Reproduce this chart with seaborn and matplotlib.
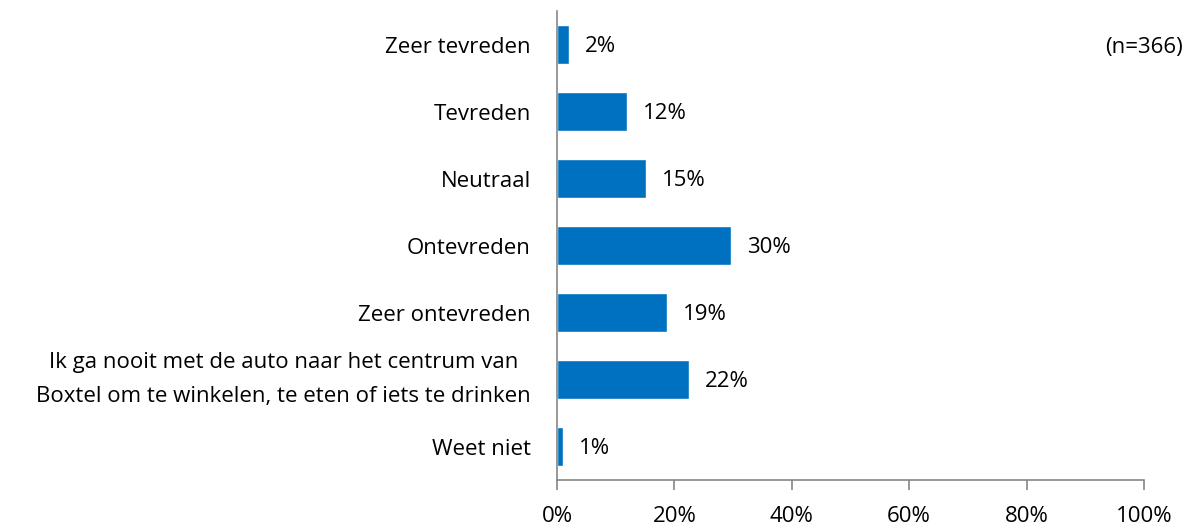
import matplotlib
matplotlib.use('Agg')
import matplotlib.pyplot as plt
from matplotlib.ticker import PercentFormatter
import pandas as pd
import seaborn as sns

categories = [
    'Zeer tevreden',
    'Tevreden',
    'Neutraal',
    'Ontevreden',
    'Zeer ontevreden',
    'Ik ga nooit met de auto naar het centrum van\nBoxtel om te winkelen, te eten of iets te drinken',
    'Weet niet',
]
values = [2.0, 11.9, 15.2, 29.6, 18.7, 22.5, 1.0]
labels = ['2%', '12%', '15%', '30%', '19%', '22%', '1%']
note = '(n=366)'

BLUE = '#0070C0'
AXIS_GREY = '#868686'
FS = 16

sns.set_theme(style='white')
plt.rcParams['font.family'] = ['Open Sans', 'DejaVu Sans']

df = pd.DataFrame({'category': categories, 'value': values})

fig, ax = plt.subplots(figsize=(11.91, 5.28), dpi=100)
fig.subplots_adjust(left=0.4677, right=0.9605, top=0.979, bottom=0.0909)

sns.barplot(data=df, x='value', y='category', color=BLUE, width=0.57,
            saturation=1, ax=ax)

for i, (v, lab) in enumerate(zip(values, labels)):
    ax.annotate(lab, (v, i), xytext=(16, -2), textcoords='offset pixels',
                va='center', ha='left', fontsize=FS, color='black')

ax.set_xlim(0, 100)
ax.set_ylim(6.5, -0.5)
ax.xaxis.set_major_formatter(PercentFormatter(decimals=0))
ax.set_xticks([0, 20, 40, 60, 80, 100])
ax.set_xlabel('')
ax.set_ylabel('')
ax.tick_params(axis='x', direction='out', length=7, width=1.2, color=AXIS_GREY,
               labelsize=FS, labelcolor='black', pad=12, bottom=True)
ax.tick_params(axis='y', length=0, labelsize=FS, labelcolor='black', pad=19)
for side in ['top', 'right']:
    ax.spines[side].set_visible(False)
for side in ['left', 'bottom']:
    ax.spines[side].set_color(AXIS_GREY)
    ax.spines[side].set_linewidth(1.2)
for t in ax.get_yticklabels():
    t.set_horizontalalignment('right')
    t.set_multialignment('center')
    t.set_linespacing(1.8)
    if '\n' in t.get_text():
        t.set_verticalalignment('center')

fig.text(0.993, 0.91, note, ha='right', va='center', fontsize=FS, color='black')

fig.savefig('out.png', dpi=100)
